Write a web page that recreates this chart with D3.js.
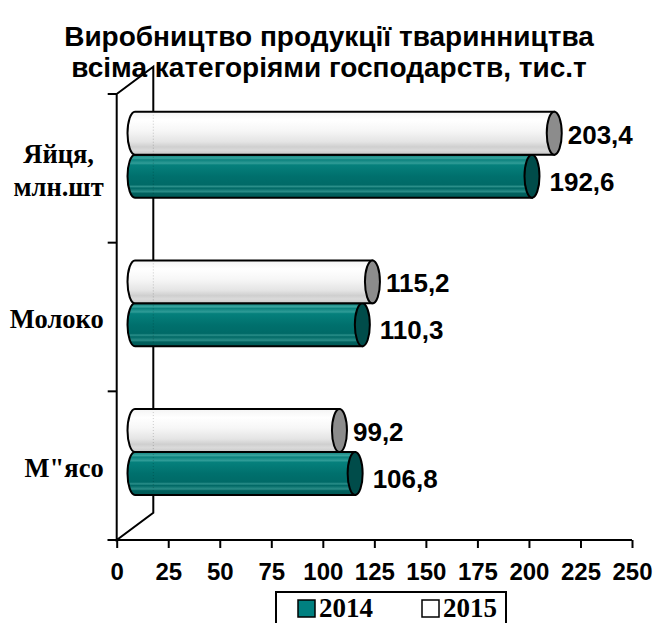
<!DOCTYPE html>
<html>
<head>
<meta charset="utf-8">
<script src="https://cdn.jsdelivr.net/npm/d3@7"></script>
<style>
  body { margin: 0; background: #fff; }
  svg { display: block; }
</style>
</head>
<body>
<div id="chart"></div>
<script>
const categories = ["Яйця, млн.шт", "Молоко", "М\"ясо"];
const categoryLines = [["Яйця,", "млн.шт"], ["Молоко"], ["М\"ясо"]];
const seriesNames = ["2014", "2015"];
const values2014 = [192.6, 110.3, 106.8];
const values2015 = [203.4, 115.2, 99.2];
const xTicks = [0, 25, 50, 75, 100, 125, 150, 175, 200, 225, 250];
const titleLines = ["Виробництво продукції тваринництва", "всіма категоріями господарств, тис.т"];

const width = 656, height = 623;
const margin = { top: 94, right: 24, bottom: 83, left: 116.7 };
const depth = { dx: 36.6, dy: -27.3 };

const sans = "'Liberation Sans', Arial, sans-serif";
const serif = "'Liberation Serif', 'Times New Roman', serif";

const xScale = d3.scaleLinear().domain([0, 250]).range([margin.left, width - margin.right]);
const yScale = d3.scaleBand().domain(categories).range([margin.top, height - margin.bottom]);
const inner = d3.scaleBand().domain(["2015", "2014"]).range([0, yScale.bandwidth()]).paddingOuter(0.73);

// bars sit half way into the depth
const bx = v => xScale(v) + depth.dx / 2;
const by = v => v + depth.dy / 2;

const fmt = d3.formatLocale({ decimal: ",", thousands: " ", grouping: [3], currency: ["", ""] }).format(".1f");

const data = [];
categories.forEach((c, i) => {
    data.push({ cat: c, series: "2014", value: values2014[i] });
    data.push({ cat: c, series: "2015", value: values2015[i] });
});

const svg = d3.select("#chart").append("svg")
    .attr("width", width)
    .attr("height", height);

const defs = svg.append("defs");

function addGradient(id, stops) {
    const g = defs.append("linearGradient").attr("id", id)
        .attr("x1", 0).attr("y1", 0).attr("x2", 0).attr("y2", 1);
    g.selectAll("stop").data(stops).join("stop")
        .attr("offset", d => d[0])
        .attr("stop-color", d => d[1]);
}

addGradient("teal", [
    [0, "#0d807c"], [0.08, "#3aa59f"], [0.12, "#0c827e"], [0.2, "#2f9c97"], [0.24, "#05807c"],
    [0.5, "#00706d"], [0.7, "#006a67"], [0.74, "#2b8f8a"], [0.78, "#006865"],
    [0.86, "#2a8c87"], [0.9, "#00605d"], [1, "#005a57"]
]);
addGradient("white", [
    [0, "#f4f4f4"], [0.2, "#ffffff"], [0.45, "#f6f6f6"], [0.7, "#e4e4e4"],
    [0.82, "#cfcfcf"], [0.9, "#dadada"], [1, "#c8c8c8"]
]);

const seriesStyle = {
    "2014": { body: "url(#teal)", cap: "#004c4a", legend: "#008080", gap: 10, dy: 5 },
    "2015": { body: "url(#white)", cap: "#8c8c8c", legend: "#ffffff", gap: 6, dy: 1 }
};

// title
svg.append("g").selectAll("text")
    .data(titleLines)
    .join("text")
    .attr("x", width / 2 + 1)
    .attr("y", (d, i) => 46 + i * 31)
    .attr("text-anchor", "middle")
    .attr("font-family", sans)
    .attr("font-weight", "bold")
    .attr("font-size", 28)
    .attr("fill", "#000")
    .text(d => d);

// side wall (category axis + back edge)
const y0 = yScale.range()[0], y1 = yScale.range()[1];
const x0 = xScale(0);
const wall = svg.append("g").attr("stroke", "#000").attr("stroke-width", 2).attr("fill", "none");
wall.append("path")
    .attr("d", `M${x0},${y0} L${x0 + depth.dx},${y0 + depth.dy} L${x0 + depth.dx},${y1 + depth.dy} L${x0},${y1} Z`);

// category ticks at band boundaries
const bounds = categories.map(c => yScale(c)).concat([y1]);
wall.selectAll("line.ctick").data(bounds).join("line")
    .attr("class", "ctick")
    .attr("x1", x0 - 9).attr("x2", x0)
    .attr("y1", d => d).attr("y2", d => d);

// bars
const rx = 7.5;
const bars = svg.append("g");
categories.forEach(c => {
    ["2014", "2015"].forEach(s => {
        const d = data.find(e => e.cat === c && e.series === s);
        const top = by(yScale(c) + inner(s));
        const h = inner.bandwidth();
        const xa = bx(0), xb = bx(d.value);
        const g = bars.append("g");
        g.append("path")
            .attr("d", `M${xa},${top} H${xb} V${top + h} H${xa} A${rx},${h / 2} 0 0 1 ${xa},${top} Z`)
            .attr("fill", seriesStyle[s].body)
            .attr("stroke", "#000")
            .attr("stroke-width", 2);
        g.append("ellipse")
            .attr("cx", xb).attr("cy", top + h / 2)
            .attr("rx", rx).attr("ry", h / 2)
            .attr("fill", seriesStyle[s].cap)
            .attr("stroke", "#000")
            .attr("stroke-width", 2);
    });
});

// back edge showing faintly through the bars
bars.append("g").selectAll("line")
    .data(categories)
    .join("line")
    .attr("x1", x0 + depth.dx).attr("x2", x0 + depth.dx)
    .attr("y1", c => by(yScale(c) + inner("2015")) + 3)
    .attr("y2", c => by(yScale(c) + inner("2014")) + inner.bandwidth() - 3)
    .attr("stroke", "#000")
    .attr("stroke-opacity", 0.2)
    .attr("stroke-dasharray", "1,2");

// value labels
svg.append("g").selectAll("text")
    .data(data)
    .join("text")
    .attr("x", d => bx(d.value) + rx + seriesStyle[d.series].gap)
    .attr("y", d => by(yScale(d.cat) + inner(d.series)) + inner.bandwidth() / 2 + seriesStyle[d.series].dy)
    .attr("dy", "0.36em")
    .attr("font-family", sans)
    .attr("font-weight", "bold")
    .attr("font-size", 26)
    .text(d => fmt(d.value));

// category labels
const catG = svg.append("g")
    .attr("font-family", serif)
    .attr("font-weight", "bold")
    .attr("font-size", 26.5);
categories.forEach((c, i) => {
    const lines = categoryLines[i];
    const cy = yScale(c) + yScale.bandwidth() / 2 + 2;
    const t = catG.append("text").attr("text-anchor", "middle");
    lines.forEach((l, j) => {
        t.append("tspan").text(l)
            .attr("y", cy + (j - (lines.length - 1) / 2) * 33)
            .attr("dy", "0.35em");
    });
    let w = 0;
    t.selectAll("tspan").each(function () { w = Math.max(w, this.getComputedTextLength()); });
    t.selectAll("tspan").attr("x", x0 - 13 - w / 2);
});

// x axis
const xAxis = svg.append("g")
    .attr("transform", `translate(0,${y1})`)
    .call(d3.axisBottom(xScale)
        .tickValues(xTicks)
        .tickFormat(d3.format("d"))
        .tickSize(8)
        .tickSizeOuter(0)
        .tickPadding(15));
xAxis.select(".domain").remove();
xAxis.append("line")
    .attr("x1", x0 - 9).attr("x2", xScale(250))
    .attr("stroke", "#000").attr("stroke-width", 2);
xAxis.selectAll(".tick line").attr("stroke", "#000").attr("stroke-width", 2);
xAxis.selectAll(".tick text")
    .attr("font-family", sans)
    .attr("font-weight", "bold")
    .attr("font-size", 24)
    .attr("fill", "#000");

// legend
const legend = svg.append("g");
legend.append("rect")
    .attr("x", 276).attr("y", 592)
    .attr("width", 230).attr("height", 40)
    .attr("fill", "#fff")
    .attr("stroke", "#000")
    .attr("stroke-width", 2);
const items = legend.selectAll("g.item")
    .data(seriesNames)
    .join("g")
    .attr("class", "item")
    .attr("transform", (d, i) => `translate(${298 + i * 124},600)`);
items.append("rect")
    .attr("width", 17).attr("height", 17)
    .attr("fill", d => seriesStyle[d].legend)
    .attr("stroke", "#000")
    .attr("stroke-width", 1.5);
items.append("text")
    .attr("x", 21).attr("y", 17)
    .attr("font-family", serif)
    .attr("font-weight", "bold")
    .attr("font-size", 27)
    .text(d => d);
</script>
</body>
</html>
